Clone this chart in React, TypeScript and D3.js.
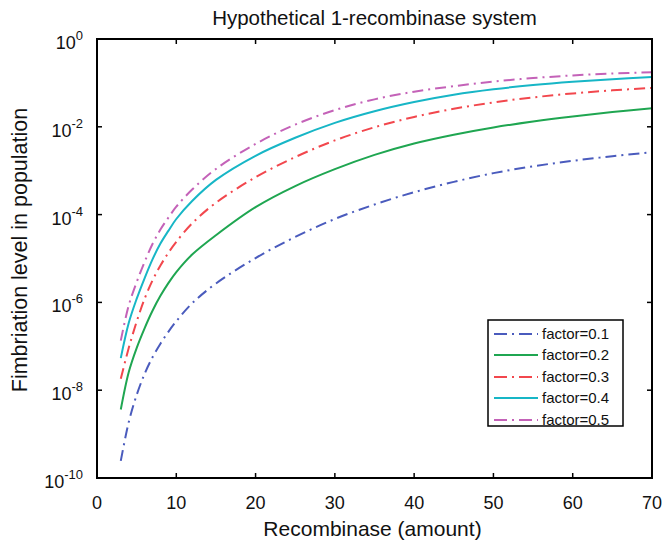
import React from "react";
import * as d3 from "d3";

// Recombinase amount (x)
const recombinase = [3, 4, 5, 6, 7, 8, 9, 10, 12, 15, 20, 25, 30, 35, 40, 45, 50, 55, 60, 65, 70];

// Fimbriation level, given as log10 exponents
const factor01Exp = [-9.61, -8.73, -8.11, -7.63, -7.25, -6.94, -6.67, -6.43, -6.02, -5.57, -4.99, -4.51, -4.1, -3.77, -3.49, -3.255, -3.055, -2.9, -2.775, -2.67, -2.58];
const factor02Exp = [-8.44, -7.59, -7.04, -6.59, -6.19, -5.85, -5.56, -5.31, -4.91, -4.47, -3.83, -3.35, -2.965, -2.64, -2.38, -2.18, -2.015, -1.88, -1.765, -1.665, -1.58];
const factor03Exp = [-7.74, -7.04, -6.44, -5.92, -5.5, -5.16, -4.87, -4.62, -4.2, -3.73, -3.15, -2.69, -2.31, -2.01, -1.775, -1.59, -1.445, -1.33, -1.24, -1.17, -1.115];
const factor04Exp = [-7.27, -6.47, -5.92, -5.45, -5.02, -4.66, -4.37, -4.1, -3.69, -3.21, -2.66, -2.25, -1.91, -1.645, -1.435, -1.27, -1.145, -1.05, -0.975, -0.915, -0.865];
const factor05Exp = [-6.87, -6.07, -5.54, -5.08, -4.67, -4.34, -4.07, -3.82, -3.43, -2.96, -2.39, -1.95, -1.62, -1.375, -1.2, -1.075, -0.97, -0.89, -0.83, -0.785, -0.76];

const seriesNames = ["factor=0.1", "factor=0.2", "factor=0.3", "factor=0.4", "factor=0.5"];
const seriesExps = [factor01Exp, factor02Exp, factor03Exp, factor04Exp, factor05Exp];
const seriesColors = ["#4a5bbd", "#1fa651", "#f2474d", "#17b6c6", "#c462b8"];
const seriesDashed = [true, false, true, false, true];

const xTicks = [0, 10, 20, 30, 40, 50, 60, 70];
const yTickExps = [0, -2, -4, -6, -8, -10];

const W = 665;
const H = 547;
const M = { left: 97, right: 652, top: 39, bottom: 478 };
const FONT = "'Liberation Sans', Arial, Helvetica, sans-serif";
const DASH = "11,5,2,5";

export default function App() {
  const x = d3.scaleLinear().domain([0, 70]).range([M.left, M.right]);
  const y = d3.scaleLog().domain([1e-10, 1]).range([M.bottom, M.top]);
  const line = d3
    .line<[number, number]>()
    .x((d) => x(d[0]))
    .y((d) => y(d[1]))
    .curve(d3.curveCatmullRom.alpha(0.5));

  const tickLen = 5;
  const legend = { x0: 488, y0: 320, x1: 623, y1: 426 };
  const legendRows = [334, 355, 377, 398, 420];

  return (
    <svg
      width={W}
      height={H}
      style={{ position: "absolute", left: 0, top: 0, background: "#fff" }}
      fontFamily={FONT}
    >
      <rect x={0} y={0} width={W} height={H} fill="#fff" />
      <defs>
        <clipPath id="plotclip">
          <rect x={M.left} y={M.top} width={M.right - M.left} height={M.bottom - M.top} />
        </clipPath>
      </defs>

      {/* title */}
      <text x={(M.left + M.right) / 2} y={25} textAnchor="middle" fontSize={20.5} fill="#111">
        Hypothetical 1-recombinase system
      </text>

      {/* series */}
      <g clipPath="url(#plotclip)">
        {seriesExps.map((exps, i) => (
          <path
            key={i}
            d={line(recombinase.map((r, j) => [r, Math.pow(10, exps[j])] as [number, number])) || ""}
            fill="none"
            stroke={seriesColors[i]}
            strokeWidth={2}
            strokeDasharray={seriesDashed[i] ? DASH : undefined}
          />
        ))}
      </g>

      {/* ticks */}
      {xTicks.slice(1, -1).map((t) => (
        <g key={"xt" + t}>
          <line x1={x(t)} x2={x(t)} y1={M.bottom} y2={M.bottom - tickLen} stroke="#000" strokeWidth={1.5} />
          <line x1={x(t)} x2={x(t)} y1={M.top} y2={M.top + tickLen} stroke="#000" strokeWidth={1.5} />
        </g>
      ))}
      {yTickExps.slice(1, -1).map((e) => (
        <g key={"yt" + e}>
          <line x1={M.left} x2={M.left + tickLen} y1={y(Math.pow(10, e))} y2={y(Math.pow(10, e))} stroke="#000" strokeWidth={1.5} />
          <line x1={M.right} x2={M.right - tickLen} y1={y(Math.pow(10, e))} y2={y(Math.pow(10, e))} stroke="#000" strokeWidth={1.5} />
        </g>
      ))}

      {/* frame */}
      <rect
        x={M.left}
        y={M.top}
        width={M.right - M.left}
        height={M.bottom - M.top}
        fill="none"
        stroke="#000"
        strokeWidth={2}
      />

      {/* x tick labels */}
      {xTicks.map((t) => (
        <text key={"xl" + t} x={x(t)} y={509} textAnchor="middle" fontSize={18} fill="#111">
          {t}
        </text>
      ))}

      {/* y tick labels */}
      {yTickExps.map((e) => (
        <text key={"yl" + e} x={83} y={y(Math.pow(10, e)) + 10} textAnchor="end" fontSize={18} fill="#111">
          <tspan>10</tspan>
          <tspan fontSize={13} dy={-9}>
            {String(e)}
          </tspan>
        </text>
      ))}

      {/* axis labels */}
      <text x={(M.left + M.right) / 2 - 2} y={536} textAnchor="middle" fontSize={21} fill="#111">
        Recombinase (amount)
      </text>
      <text
        transform={`translate(27,250) rotate(-90)`}
        textAnchor="middle"
        fontSize={21.5}
        fill="#111"
      >
        Fimbriation level in population
      </text>

      {/* legend */}
      <rect
        x={legend.x0}
        y={legend.y0}
        width={legend.x1 - legend.x0}
        height={legend.y1 - legend.y0}
        fill="#fff"
        stroke="#000"
        strokeWidth={1.5}
      />
      {seriesNames.map((name, i) => (
        <g key={"lg" + i}>
          <line
            x1={494}
            x2={538}
            y1={legendRows[i]}
            y2={legendRows[i]}
            stroke={seriesColors[i]}
            strokeWidth={2}
            strokeDasharray={seriesDashed[i] ? "13,5,2,5" : undefined}
          />
          <text x={542} y={legendRows[i] + 5} fontSize={15} fill="#111">
            {name}
          </text>
        </g>
      ))}
    </svg>
  );
}
